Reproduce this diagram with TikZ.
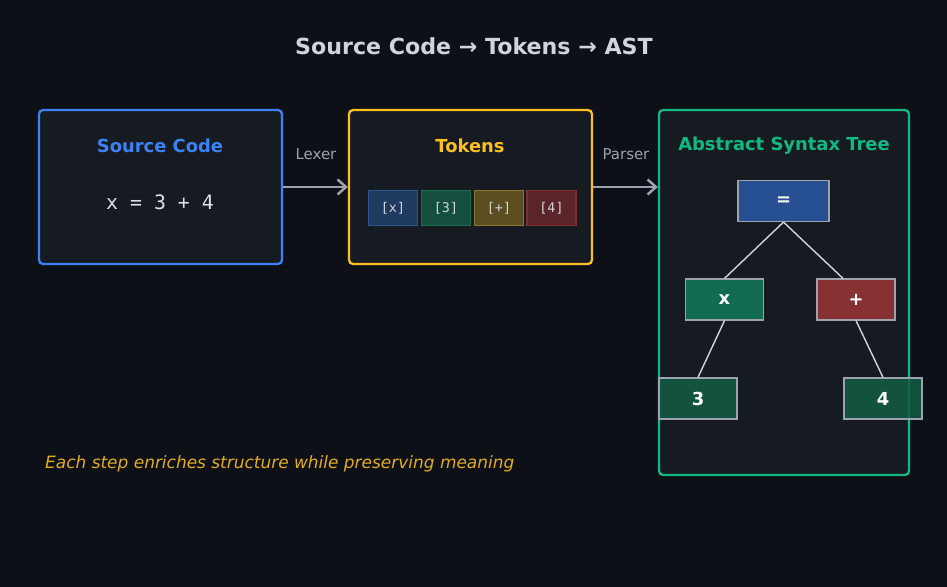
\documentclass[tikz,border=0pt]{standalone}
\usepackage{fontspec}
\setmainfont{DejaVu Sans}
\setmonofont{DejaVu Sans Mono}
\usepackage{xcolor}
\usetikzlibrary{arrows.meta}
\definecolor{cBack}{HTML}{0D1117}
\definecolor{cPanel}{HTML}{161B22}
\definecolor{cBlue}{HTML}{3B82F6}
\definecolor{cYellow}{HTML}{FBBF24}
\definecolor{cGreen}{HTML}{10B981}
\definecolor{cGray}{HTML}{9CA3AF}
\definecolor{cTitle}{HTML}{D1D5DB}
\definecolor{cCode}{HTML}{E5E7EB}
\tikzstyle{tsPanel} = [
    rectangle,
    rounded corners=0.08cm,
    fill=cPanel,
    line width=1.3pt
]
\tikzstyle{tsHead} = [
    font=\bfseries\fontsize{10.2}{12}\selectfont
]
\tikzstyle{tsToken} = [
    rectangle,
    minimum width=0.98cm,
    minimum height=0.7cm,
    inner sep=0pt,
    line width=0.6pt,
    text=cTitle,
    font=\ttfamily\fontsize{7.6}{9}\selectfont
]
\tikzstyle{tsTree} = [
    rectangle,
    minimum width=1.56cm,
    minimum height=0.82cm,
    inner sep=0pt,
    draw=cGray,
    line width=0.7pt,
    fill opacity=0.85,
    text opacity=1,
    text=white,
    font=\bfseries\fontsize{10.2}{12}\selectfont
]
\tikzstyle{tsEdge} = [
    draw=cTitle,
    line width=0.8pt
]
\tikzstyle{tsStep} = [
    draw=cGray,
    line width=1.4pt,
    -{Straight Barb[length=0.17cm,width=0.3cm]}
]
\tikzstyle{tsStepLabel} = [
    text=cGray,
    font=\fontsize{8.5}{10}\selectfont
]

\begin{document}
\begin{tikzpicture}[x=0.02cm, y=-0.02cm]

        % background
        \fill[cBack] (0,0) rectangle (947,587);
        \useasboundingbox (0,0) rectangle (947,587);

        \node[text=cTitle, font=\bfseries\fontsize{12.6}{15}\selectfont] (title) at (474,46) {Source Code → Tokens → AST};

        % the three stages
        \node[tsPanel, draw=cBlue, minimum width=4.86cm, minimum height=3.08cm] (source) at (160.5,187) {};
        \node[tsPanel, draw=cYellow, minimum width=4.86cm, minimum height=3.08cm] (tokens) at (470.5,187) {};
        \node[tsPanel, draw=cGreen, minimum width=5cm, minimum height=7.3cm] (ast) at (784,292.5) {};

        \node[tsHead, text=cBlue] (sourceHead) at (160,146) {Source Code};
        \node[tsHead, text=cYellow] (tokensHead) at (470,146) {Tokens};
        \node[tsHead, text=cGreen] (astHead) at (784,146) {Abstract Syntax Tree};

        \node[text=cCode!90!cGray, font=\ttfamily\fontsize{11.3}{13}\selectfont] (code) at (160,202) {x = 3 + 4};

        % tokens
        \node[tsToken, fill={rgb,255:red,30;green,58;blue,95}, draw={rgb,255:red,44;green,88;blue,150}] (tokX) at (393,208) {[x]};
        \node[tsToken, fill={rgb,255:red,20;green,78;blue,62}, draw={rgb,255:red,26;green,110;blue,80}] (tokThree) at (446,208) {[3]};
        \node[tsToken, fill={rgb,255:red,92;green,78;blue,32}, draw={rgb,255:red,138;green,116;blue,48}] (tokPlus) at (499,208) {[+]};
        \node[tsToken, fill={rgb,255:red,90;green,36;blue,40}, draw={rgb,255:red,122;green,48;blue,50}] (tokFour) at (551.5,208) {[4]};

        % steps
        \draw[tsStep] (source.east) -- (tokens.west);
        \draw[tsStep] (tokens.east) -- (ast.west |- tokens.east);
        \node[tsStepLabel] (lexer) at (316,154) {Lexer};
        \node[tsStepLabel] (parser) at (626,154) {Parser};

        % tree
        \node[tsTree, fill={rgb,255:red,43;green,90;blue,166}, minimum width=1.82cm] (eq) at (783.5,201) {=};
        \node[tsTree, fill={rgb,255:red,19;green,122;blue,90}] (varX) at (724.5,299.5) {x};
        \node[tsTree, fill={rgb,255:red,155;green,53;blue,56}] (plus) at (856,299.5) {+};
        \node[tsTree, fill={rgb,255:red,19;green,92;blue,69}] (numThree) at (698,398.5) {3};
        \node[tsTree, fill={rgb,255:red,19;green,92;blue,69}] (numFour) at (883,398.5) {4};

        \draw[tsEdge] (eq.south) -- (varX.north);
        \draw[tsEdge] (eq.south) -- ([xshift=-0.26cm]plus.north);
        \draw[tsEdge] (varX.south) -- (numThree.north);
        \draw[tsEdge] (plus.south) -- (numFour.north);

        \node[anchor=west, text=cYellow!90!black, font=\itshape\fontsize{9.65}{12}\selectfont] (note) at (39,464) {Each step enriches structure while preserving meaning};

\end{tikzpicture}
\end{document}
